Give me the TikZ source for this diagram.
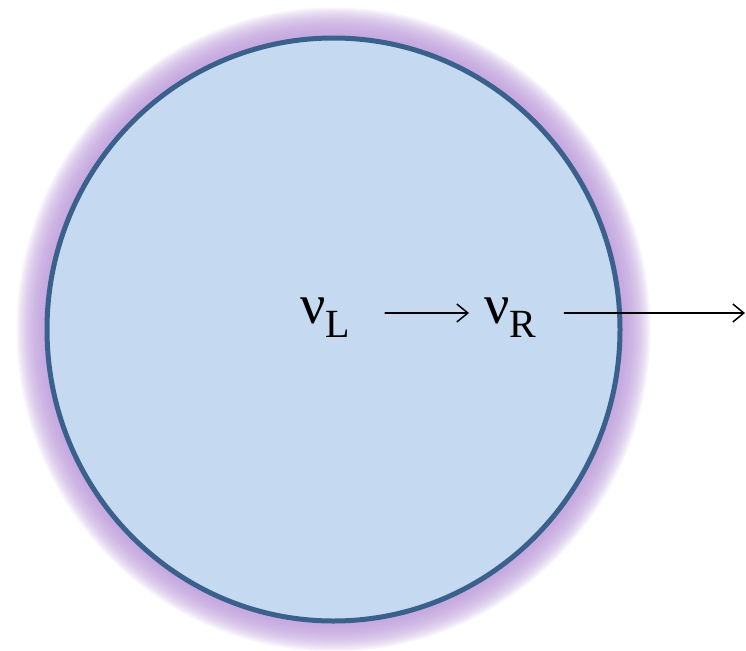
\documentclass[tikz,border=0pt]{standalone}
\usepackage{fontspec}
\setmainfont{Liberation Serif}
\newfontfamily\labelfont{Liberation Serif}
\usetikzlibrary{arrows.meta}
\definecolor{cellfill}{RGB}{197,217,240}
\definecolor{cellrim}{RGB}{58,96,140}
\definecolor{halo}{RGB}{188,155,218}

\begin{document}
\begin{tikzpicture}[x=1pt, y=-1pt, line cap=round, >={Straight Barb[length=11pt,width=18pt]},
  flow/.style={->, line width=1.5pt},
  nu/.style={inner sep=0pt, anchor=base west, font=\labelfont\fontsize{56}{56}\selectfont}]
  \useasboundingbox (0,0) rectangle (746,650);
  % Soft purple halo round the sphere.
  \foreach \i in {1,...,16}
    \draw[halo, line width=3.8*\i, opacity=0.12] (333.5,329.5) ellipse [x radius=286.5, y radius=291.5];
  % The sphere itself.
  \draw[cellrim, fill=cellfill, line width=5pt] (333.5,329.5) ellipse [x radius=286.5, y radius=291.5];
  % Labels and arrows.
  \node[nu] (nuL) at (300,323) {ν\raisebox{-14pt}{\fontsize{40}{40}\selectfont L}};
  \node[nu] (nuR) at (484,323) {ν\raisebox{-14pt}{\fontsize{40}{40}\selectfont R}};
  \coordinate (exit) at (745,313);
  \draw[flow] ([shift={(35,-10)}]nuL.base east) -- ([shift={(-15,-10)}]nuR.base west);
  \draw[flow] ([shift={(28,-10)}]nuR.base east) -- (exit);
\end{tikzpicture}
\end{document}
